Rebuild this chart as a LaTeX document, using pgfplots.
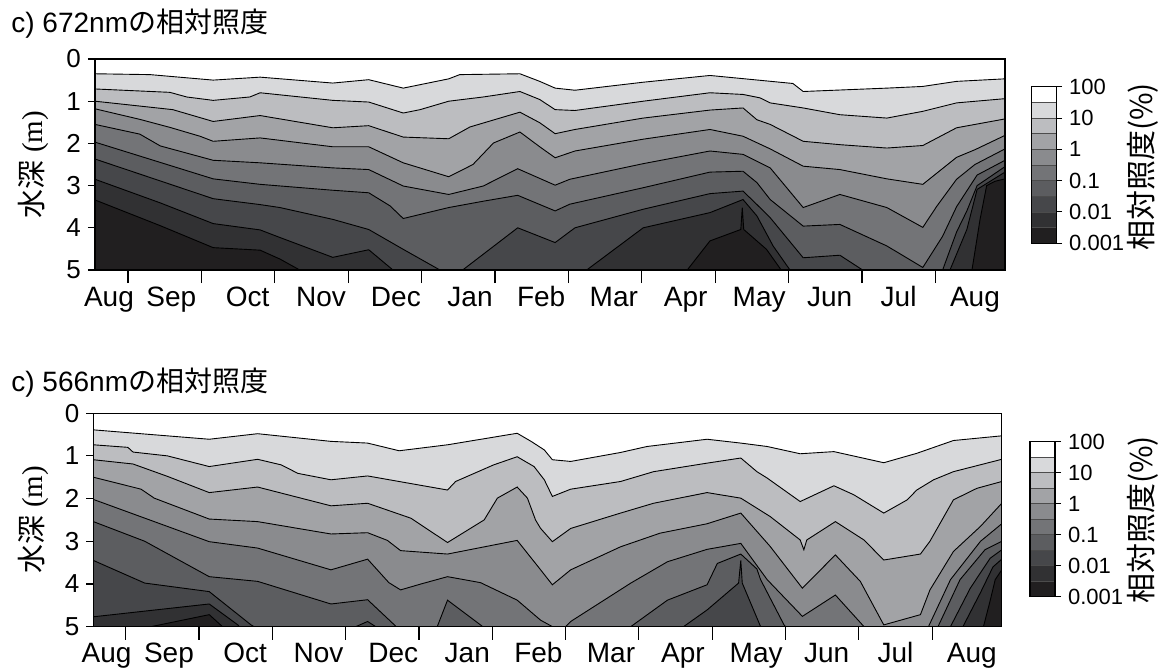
\documentclass[border=0pt]{standalone}
\usepackage{pgfplots}
\pgfplotsset{compat=1.18}
\usepackage{fontspec}
\setmainfont{Liberation Sans}
\newfontfamily\cjk{Noto Sans CJK JP}
\newfontfamily\tnr{Liberation Serif}

% grey levels of the half-decade bands, lightest to darkest
\definecolor{c1}{HTML}{D8D9DB}
\definecolor{c2}{HTML}{BCBDC0}
\definecolor{c3}{HTML}{A2A3A6}
\definecolor{c4}{HTML}{8A8B8E}
\definecolor{c5}{HTML}{737477}
\definecolor{c6}{HTML}{5C5D60}
\definecolor{c7}{HTML}{46474A}
\definecolor{c8}{HTML}{313133}
\definecolor{c9}{HTML}{211F20}

\pgfplotsset{
  panel/.style={
    scale only axis, width=455pt, height=105.5pt,
    xmax=11.95, ymin=0, ymax=5, y dir=reverse,
    ytick={0,...,5}, ytick pos=left,
    xtick={-0.26,0.59,1.63,2.63,3.65,4.66,5.63,6.62,7.60,8.60,9.56,10.50,11.54},
    xticklabels={Aug,Sep,Oct,Nov,Dec,Jan,Feb,Mar,Apr,May,Jun,Jul,Aug},
    minor xtick={0,...,11}, xtick pos=left,
    tick align=outside,
    major x tick style={draw=none},
    minor tick length=6.5pt, major tick length=3.5pt,
    tick style={black, line width=0.6pt},
    axis line style={line width=0.6pt},
    axis on top,
    yticklabel style={font=\fontsize{13}{13}\selectfont},
    xticklabel style={font=\fontsize{14}{14}\selectfont, anchor=base, yshift=-14.5pt},
    /pgf/number format/assume math mode=true,
  },
  ct/.style={draw=black, line width=0.45pt, fill=#1},
}

% key of the ten bands
\newcommand{\colorkey}[3]{%
\begin{axis}[at={(#1)}, anchor=south west, scale only axis,
  width=#2, height=#3, xmin=0, xmax=1, ymin=0, ymax=10,
  xtick=\empty, ytick={0,2,4,6,8,10},
  yticklabels={0.001,0.01,0.1,1,10,100},
  ytick pos=right, yticklabel pos=right, tick align=outside,
  major tick length=3pt, tick style={black, line width=0.5pt},
  axis line style={line width=0.6pt}, axis on top,
  ticklabel style={font=\fontsize{11}{11}\selectfont},
  /pgf/number format/assume math mode=true]
\addplot[fill=c9, draw=black!70, line width=0.4pt] coordinates {(0,0) (1,0) (1,1) (0,1)} -- cycle;
\addplot[fill=c8, draw=black!70, line width=0.4pt] coordinates {(0,1) (1,1) (1,2) (0,2)} -- cycle;
\addplot[fill=c7, draw=black!70, line width=0.4pt] coordinates {(0,2) (1,2) (1,3) (0,3)} -- cycle;
\addplot[fill=c6, draw=black!70, line width=0.4pt] coordinates {(0,3) (1,3) (1,4) (0,4)} -- cycle;
\addplot[fill=c5, draw=black!70, line width=0.4pt] coordinates {(0,4) (1,4) (1,5) (0,5)} -- cycle;
\addplot[fill=c4, draw=black!70, line width=0.4pt] coordinates {(0,5) (1,5) (1,6) (0,6)} -- cycle;
\addplot[fill=c3, draw=black!70, line width=0.4pt] coordinates {(0,6) (1,6) (1,7) (0,7)} -- cycle;
\addplot[fill=c2, draw=black!70, line width=0.4pt] coordinates {(0,7) (1,7) (1,8) (0,8)} -- cycle;
\addplot[fill=c1, draw=black!70, line width=0.4pt] coordinates {(0,8) (1,8) (1,9) (0,9)} -- cycle;
\addplot[fill=white, draw=black!70, line width=0.4pt] coordinates {(0,9) (1,9) (1,10) (0,10)} -- cycle;
\end{axis}}

\begin{document}
\begin{tikzpicture}
\path[use as bounding box] (0,0) rectangle (581.5pt,335pt);

% ---------------- 672 nm ----------------
\begin{axis}[panel, xmin=-0.45, at={(47.5pt,200pt)}, anchor=south west]
\addplot[ct=c1] coordinates {(-0.45,5) (-0.45,0.35) (0.30,0.37) (1.16,0.50) (1.80,0.43) (2.79,0.57) (3.28,0.49) (3.75,0.69) (4.37,0.47) (4.52,0.37) (5.34,0.35) (5.61,0.53) (5.82,0.69) (6.09,0.74) (7.02,0.55) (7.93,0.39) (9.06,0.58) (9.20,0.77) (10.34,0.69) (10.83,0.65) (11.29,0.53) (11.95,0.47) (11.95,5)};
\addplot[ct=c2] coordinates {(-0.45,5) (-0.45,0.71) (0.57,0.79) (0.80,0.90) (1.16,0.98) (1.66,0.90) (1.80,0.80) (2.79,0.98) (3.28,1.02) (3.75,1.28) (3.98,1.20) (4.37,1.00) (4.84,0.90) (5.34,0.77) (5.61,0.96) (5.82,1.20) (6.09,1.22) (7.02,1.00) (7.93,0.80) (8.38,0.84) (8.61,0.92) (8.75,1.04) (9.20,1.16) (9.70,1.32) (10.34,1.40) (10.83,1.24) (11.29,1.04) (11.95,0.94) (11.95,5)};
\addplot[ct=c3] coordinates {(-0.45,5) (-0.45,1.00) (0.61,1.20) (1.16,1.48) (1.80,1.34) (2.79,1.63) (3.28,1.58) (3.75,1.85) (4.37,1.89) (4.66,1.61) (5.34,1.26) (5.61,1.51) (5.82,1.77) (6.09,1.67) (7.02,1.40) (7.93,1.21) (8.38,1.16) (8.57,1.44) (8.75,1.55) (9.20,1.95) (9.70,2.03) (10.34,2.11) (10.83,2.05) (11.29,1.63) (11.95,1.42) (11.95,5)};
\addplot[ct=c4] coordinates {(-0.45,5) (-0.45,1.18) (0.16,1.43) (0.57,1.62) (0.98,1.83) (1.16,1.95) (1.80,1.87) (2.79,2.08) (3.28,2.08) (3.75,2.46) (4.37,2.79) (4.70,2.50) (4.98,1.99) (5.34,1.73) (5.61,2.08) (5.82,2.34) (6.09,2.18) (7.02,1.90) (7.93,1.67) (8.38,1.83) (8.75,2.13) (9.20,2.54) (9.70,2.62) (10.34,2.84) (10.83,2.97) (11.29,2.33) (11.54,2.15) (11.95,1.81) (11.95,5)};
\addplot[ct=c5] coordinates {(-0.45,5) (-0.45,1.55) (0.16,1.78) (0.44,2.06) (1.16,2.40) (1.80,2.46) (2.79,2.58) (3.28,2.62) (3.75,3.01) (4.37,3.21) (4.84,3.01) (5.31,2.60) (5.82,2.99) (6.02,2.85) (7.02,2.48) (7.93,2.18) (8.38,2.26) (8.75,2.58) (9.20,3.52) (9.70,3.21) (10.34,3.52) (10.83,3.99) (11.02,3.49) (11.29,2.85) (11.54,2.50) (11.95,2.13) (11.95,5)};
\addplot[ct=c6] coordinates {(-0.45,5) (-0.45,1.97) (1.16,2.84) (1.80,2.97) (2.79,3.11) (3.28,3.17) (3.57,3.48) (3.75,3.78) (4.37,3.52) (4.84,3.37) (5.31,3.23) (5.82,3.60) (6.02,3.44) (7.02,3.05) (7.93,2.68) (8.38,2.66) (8.57,2.93) (8.75,3.33) (9.20,3.96) (9.70,3.92) (10.34,4.43) (10.83,4.94) (11.10,4.20) (11.29,3.50) (11.57,2.75) (11.95,2.40) (11.95,5)};
\addplot[ct=c7] coordinates {(-0.45,5) (-0.45,2.37) (1.16,3.31) (1.80,3.45) (2.07,3.52) (2.79,3.80) (3.28,4.04) (3.75,4.51) (4.25,5) (4.56,5) (5.31,4.00) (5.82,4.35) (6.09,4.00) (7.02,3.56) (7.93,3.19) (8.38,3.13) (8.57,3.45) (8.75,3.76) (9.20,4.71) (9.70,4.65) (10.01,5) (11.10,5) (11.29,4.10) (11.43,3.60) (11.57,3.00) (11.95,2.55) (11.95,5)};
\addplot[ct=c8] coordinates {(-0.45,5) (-0.45,2.85) (0.44,3.41) (1.16,3.90) (1.80,4.05) (2.07,4.23) (2.79,4.70) (3.28,4.52) (3.61,5) (6.25,5) (7.02,4.00) (7.93,3.64) (8.38,3.33) (8.57,3.72) (8.79,4.43) (9.02,5) (11.20,5) (11.43,4.04) (11.57,3.09) (11.95,2.68) (11.95,5)};
\addplot[ct=c9] coordinates {(-0.45,5) (-0.45,3.34) (0.44,3.95) (1.16,4.47) (1.80,4.53) (2.07,4.74) (2.34,5) (7.62,5) (7.93,4.31) (8.35,4.04) (8.37,3.52) (8.39,4.04) (8.70,4.51) (8.90,5) (11.50,5) (11.61,3.80) (11.70,3.00) (11.81,2.90) (11.95,2.84) (11.95,5)};
\end{axis}

% ---------------- 566 nm ----------------
\begin{axis}[panel, xmin=-0.44, at={(46.7pt,21.7pt)}, anchor=south west, height=106.7pt, width=454.2pt]
\addplot[ct=c1] coordinates {(-0.44,5) (-0.44,0.39) (1.14,0.61) (1.80,0.48) (2.80,0.66) (3.30,0.70) (3.73,0.88) (4.39,0.74) (5.34,0.47) (5.53,0.66) (5.71,0.86) (5.82,1.09) (6.07,1.13) (6.75,0.92) (7.11,0.78) (7.93,0.61) (8.39,0.70) (8.75,0.78) (9.20,0.95) (9.66,0.90) (10.34,1.16) (10.79,0.94) (11.29,0.64) (11.95,0.53) (11.95,5)};
\addplot[ct=c2] coordinates {(-0.44,5) (-0.44,0.74) (0.03,0.80) (0.10,0.91) (0.57,1.00) (1.14,1.25) (1.80,1.08) (2.12,1.21) (2.35,1.41) (2.80,1.56) (3.30,1.47) (4.39,1.80) (4.50,1.60) (5.02,1.21) (5.34,1.02) (5.57,1.25) (5.71,1.56) (5.82,1.95) (6.07,1.78) (6.75,1.60) (7.20,1.37) (7.93,1.17) (8.39,1.05) (8.61,1.37) (8.75,1.52) (9.20,2.07) (9.66,1.70) (9.93,1.91) (10.34,2.34) (10.66,2.03) (10.79,1.80) (11.02,1.56) (11.29,1.37) (11.95,1.08) (11.95,5)};
\addplot[ct=c3] coordinates {(-0.44,5) (-0.44,1.09) (0.10,1.19) (0.57,1.48) (1.14,1.86) (1.80,1.73) (2.80,2.17) (3.30,2.11) (3.89,2.46) (4.39,3.03) (4.89,2.50) (5.07,1.99) (5.34,1.73) (5.48,1.99) (5.59,2.50) (5.66,2.70) (5.82,3.01) (6.07,2.70) (6.75,2.34) (7.20,2.11) (7.93,1.86) (8.39,1.99) (8.79,2.42) (9.20,2.97) (9.25,3.20) (9.29,2.97) (9.68,2.54) (10.07,2.97) (10.34,3.44) (10.84,3.30) (10.97,3.00) (11.29,2.03) (11.61,1.76) (11.95,1.60) (11.95,5)};
\addplot[ct=c4] coordinates {(-0.44,5) (-0.44,1.50) (0.21,1.78) (0.39,1.99) (1.14,2.48) (1.80,2.54) (2.80,2.83) (3.30,2.80) (3.57,2.98) (3.75,3.22) (4.39,3.30) (5.34,2.98) (5.66,3.67) (5.82,4.02) (6.07,3.67) (6.75,3.13) (7.29,2.81) (7.93,2.59) (8.39,2.34) (8.79,3.12) (9.23,4.10) (9.68,3.32) (10.02,3.94) (10.34,4.96) (10.84,4.72) (10.97,4.14) (11.29,3.24) (11.66,2.65) (11.95,2.11) (11.95,5)};
\addplot[ct=c5] coordinates {(-0.44,5) (-0.44,2.02) (1.14,3.01) (1.80,3.16) (2.80,3.67) (3.30,3.42) (3.59,3.97) (3.75,4.14) (4.03,4.00) (4.39,3.83) (4.84,3.97) (5.34,4.38) (5.66,4.85) (5.82,5) (6.00,5) (6.07,4.88) (6.89,3.98) (7.39,3.48) (7.93,3.19) (8.39,3.05) (8.75,3.90) (9.23,4.76) (9.68,4.26) (10.07,5) (10.95,5) (11.25,3.90) (11.66,3.00) (11.95,2.59) (11.95,5)};
\addplot[ct=c6] coordinates {(-0.44,5) (-0.44,2.54) (0.26,3.00) (1.14,3.83) (1.80,3.94) (2.80,4.47) (3.30,4.37) (3.69,5) (4.25,5) (4.39,4.38) (4.87,5) (6.89,5) (7.39,4.38) (7.93,4.02) (8.07,3.52) (8.39,3.30) (8.61,3.65) (8.66,3.90) (8.98,4.96) (9.00,5) (11.08,5) (11.38,3.90) (11.72,3.20) (11.95,3.00) (11.95,5)};
\addplot[ct=c7] coordinates {(-0.44,5) (-0.44,3.45) (0.26,3.98) (1.14,4.18) (1.71,4.96) (1.75,5) (3.14,5) (3.30,4.88) (3.41,5) (7.61,5) (7.93,4.61) (8.36,3.98) (8.39,3.45) (8.41,3.98) (8.66,5) (11.25,5) (11.52,4.10) (11.79,3.40) (11.95,3.20) (11.95,5)};
\addplot[ct=c8] coordinates {(-0.44,5) (-0.44,4.77) (1.14,4.47) (1.53,4.96) (1.55,5) (11.42,5) (11.66,4.20) (11.83,3.60) (11.95,3.42) (11.95,5)};
\addplot[ct=c9] coordinates {(-0.44,5) (0.35,5) (1.14,4.72) (1.32,5) (11.70,5) (11.79,4.40) (11.86,3.90) (11.95,3.67) (11.95,5)};
\end{axis}

\colorkey{515.85pt,213.35pt}{12.2pt}{78.3pt}
\colorkey{515pt,36.65pt}{12.5pt}{77.5pt}

% titles and labels
\node[anchor=base west, inner sep=0pt] at (5.5pt,318.5pt)
  {\fontsize{14}{14}\selectfont c) 672nm{\cjk の相対照度}};
\node[anchor=base west, inner sep=0pt] at (5.5pt,139pt)
  {\fontsize{14}{14}\selectfont c) 566nm{\cjk の相対照度}};
\node[rotate=90, inner sep=0pt] at (16.5pt,252.5pt)
  {\fontsize{14.5}{14.5}\selectfont{\cjk 水深} {\tnr (m)}};
\node[rotate=90, inner sep=0pt] at (16.5pt,75pt)
  {\fontsize{14.5}{14.5}\selectfont{\cjk 水深} {\tnr (m)}};
\node[rotate=90, inner sep=0pt] at (571.5pt,251.5pt)
  {\fontsize{15}{15}\selectfont\cjk 相対照度(\%)};
\node[rotate=90, inner sep=0pt] at (571.5pt,75pt)
  {\fontsize{15}{15}\selectfont\cjk 相対照度(\%)};
\end{tikzpicture}
\end{document}
